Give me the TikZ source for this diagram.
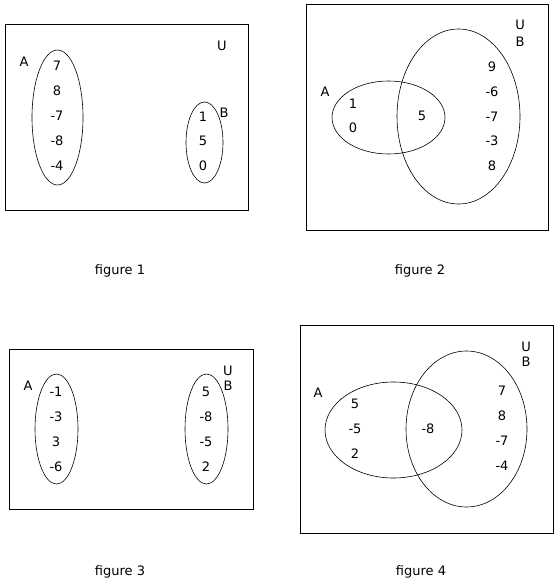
\documentclass[tikz,border=0pt]{standalone}
\usepackage{fontspec}
\setmainfont{DejaVu Sans}
\usetikzlibrary{shapes.geometric}
\begin{document}
\begin{tikzpicture}[x=1pt,y=-1pt,font=\fontsize{13}{15}\selectfont,
    frame/.style={draw, line width=0.8pt},
    set/.style={draw, ellipse, line width=0.6pt, inner sep=0pt},
    elem/.style={inner sep=0pt, anchor=center}]
  \useasboundingbox (0,0) rectangle (557,585);
  % figure 1
  \draw[frame] (5,24) rectangle (248,210);
  \node[set, minimum width=51, minimum height=135] (a1) at (57.5,117.5) {};
  \node[set, minimum width=37, minimum height=81] (b1) at (204.5,142.5) {};
  \node[elem] (la1) at (24,62) {A};
  \node[elem] (lu1) at (222,46) {U};
  \node[elem] (lb1) at (224,113) {B};
  \foreach \v [count=\i] in {7,8,-7,-8,-4}
    \node[elem] (a1e\i) at (57,41+25*\i) {\v};
  \foreach \v [count=\i] in {1,5,0}
    \node[elem] (b1e\i) at (203,92+24.5*\i) {\v};
  \node[elem] (cap1) at (120,271) {figure 1};
  % figure 2
  \draw[frame] (306,4) rectangle (548,230);
  \node[set, minimum width=113, minimum height=73] (a2) at (388.5,117.5) {};
  \node[set, minimum width=123, minimum height=175] (b2) at (458.5,116.5) {};
  \node[elem] (la2) at (325,92) {A};
  \node[elem] (lu2) at (520,25) {U};
  \node[elem] (lb2) at (520,42) {B};
  \node[elem] (a2e1) at (353,104) {1};
  \node[elem] (a2e2) at (353,128) {0};
  \node[elem] (ab2) at (422,116) {5};
  \foreach \v [count=\i] in {9,-6,-7,-3,8}
    \node[elem] (b2e\i) at (492,42+24.8*\i) {\v};
  \node[elem] (cap2) at (420,271) {figure 2};
  % figure 3
  \draw[frame] (9,349) rectangle (253,509);
  \node[set, minimum width=43, minimum height=110] (a3) at (56.5,429) {};
  \node[set, minimum width=43, minimum height=110] (b3) at (206.5,429) {};
  \node[elem] (la3) at (28,386) {A};
  \node[elem] (lu3) at (228,371) {U};
  \node[elem] (lb3) at (228,386) {B};
  \foreach \v [count=\i] in {-1,-3,3,-6}
    \node[elem] (a3e\i) at (56,367+25*\i) {\v};
  \foreach \v [count=\i] in {5,-8,-5,2}
    \node[elem] (b3e\i) at (206,367+25*\i) {\v};
  \node[elem] (cap3) at (120,572) {figure 3};
  % figure 4
  \draw[frame] (300,325) rectangle (553,533);
  \node[set, minimum width=137, minimum height=96] (a4) at (393.5,430) {};
  \node[set, minimum width=121, minimum height=156] (b4) at (466.5,429) {};
  \node[elem] (la4) at (318,393) {A};
  \node[elem] (lu4) at (526,347) {U};
  \node[elem] (lb4) at (526,362) {B};
  \foreach \v [count=\i] in {5,-5,2}
    \node[elem] (a4e\i) at (355,379+25*\i) {\v};
  \node[elem] (ab4) at (428,429) {-8};
  \foreach \v [count=\i] in {7,8,-7,-4}
    \node[elem] (b4e\i) at (502,366+25*\i) {\v};
  \node[elem] (cap4) at (421,572) {figure 4};
\end{tikzpicture}
\end{document}
